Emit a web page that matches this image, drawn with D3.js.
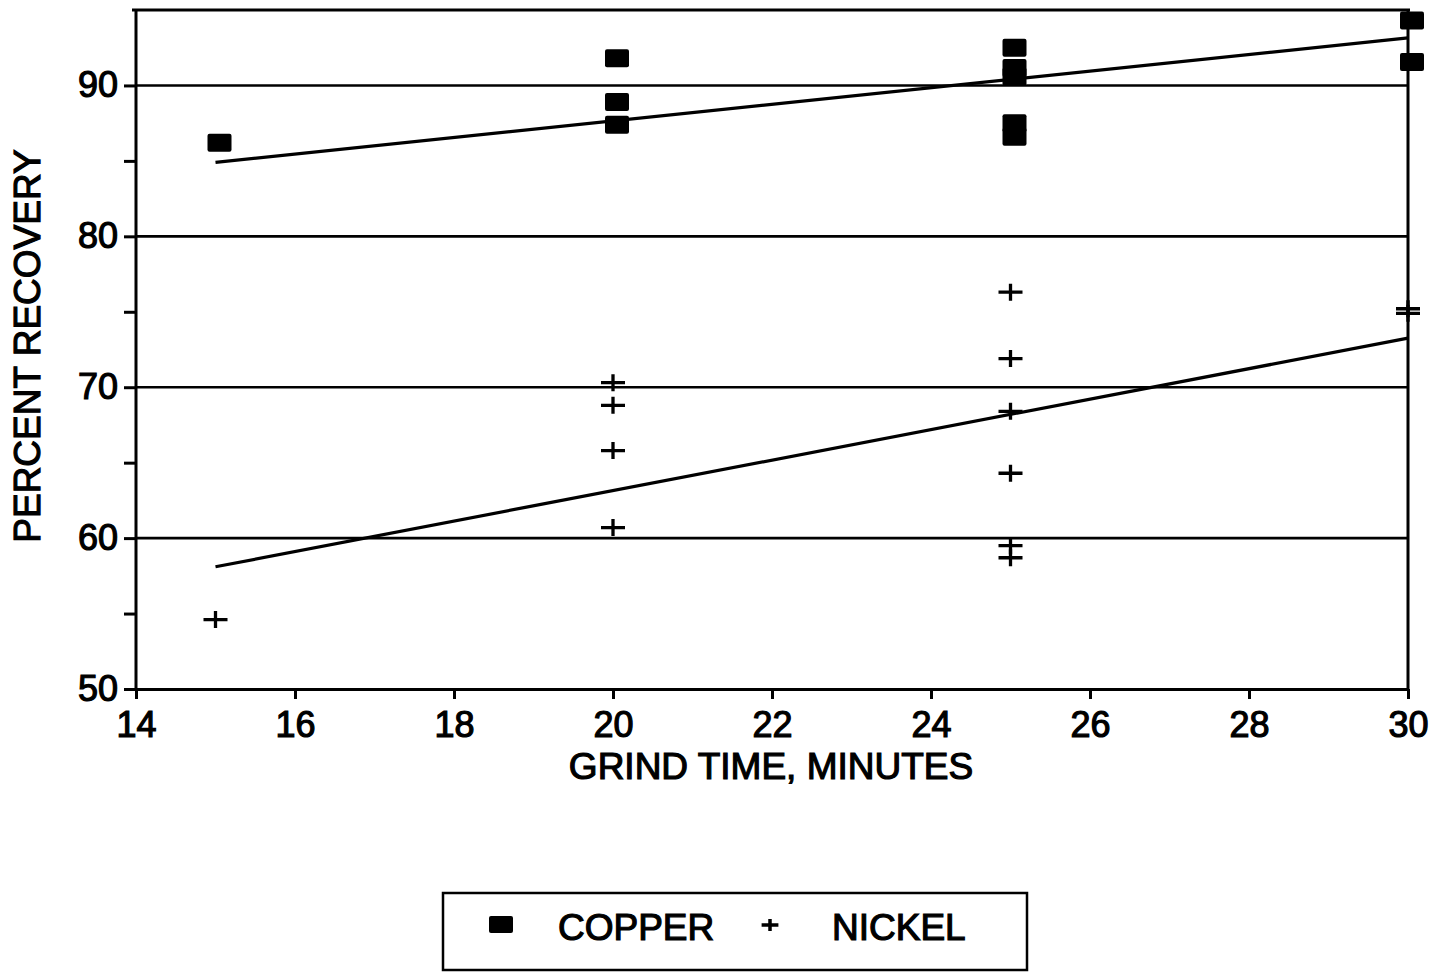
<!DOCTYPE html>
<html>
<head>
<meta charset="utf-8">
<script src="https://cdn.jsdelivr.net/npm/d3@7"></script>
<style>
body{margin:0;background:#fff}
svg text{font-family:"Liberation Sans",Arial,Helvetica,sans-serif;fill:#000;stroke:#000;stroke-width:1.2px}
</style>
</head>
<body>
<div id="chart"></div>
<script>
// valeurs
var grindTime = [15, 20, 25, 30];
var copper = [[86.2], [91.8, 88.9, 87.4], [92.5, 91.15, 90.6, 87.5, 86.6], [94.3, 91.55]];
var nickel = [[54.6], [70.3, 68.8, 65.8, 60.7], [76.3, 71.9, 68.4, 64.3, 59.5, 58.7], [75.2, 74.9]];
var fitTime = [15, 30];
var copperFit = [84.9, 93.15];
var nickelFit = [58.1, 73.25];
var xTicks = [14, 16, 18, 20, 22, 24, 26, 28, 30];
var yTicks = [50, 60, 70, 80, 90];
var yMinor = [55, 65, 75, 85];
var gridVals = [60, 70, 80, 90];
var legendLabels = ["COPPER", "NICKEL"];

var width = 1443, height = 972;
var x = d3.scaleLinear().domain([14, 30]).range([136, 1408]);
var y = d3.scaleLinear().domain([50, 95]).range([689, 10]);

var svg = d3.select("#chart").append("svg")
  .attr("width", width).attr("height", height)
  .style("background", "#fff");

function flat(series) {
  var pts = [];
  series.forEach(function(vals, i) {
    vals.forEach(function(v) { pts.push({t: grindTime[i], v: v}); });
  });
  return pts;
}

// grille horizontale
svg.append("g").selectAll("line").data(gridVals).enter().append("line")
  .attr("x1", x(14)).attr("x2", x(30))
  .attr("y1", d => y(d)).attr("y2", d => y(d))
  .attr("stroke", "#000").attr("stroke-width", 2.6);

// cadre haut et droit
svg.append("line").attr("x1", x(14) - 4).attr("x2", x(30) + 2)
  .attr("y1", y(95)).attr("y2", y(95))
  .attr("stroke", "#000").attr("stroke-width", 3);
svg.append("line").attr("x1", x(30)).attr("x2", x(30))
  .attr("y1", y(95)).attr("y2", y(50))
  .attr("stroke", "#000").attr("stroke-width", 3);

// axes
var fs = 36, fsTitle = 37;
var xAxis = svg.append("g").attr("transform", "translate(0," + y(50) + ")")
  .call(d3.axisBottom(x).tickValues(xTicks).tickSize(10).tickSizeOuter(0).tickPadding(12).tickFormat(d3.format("d")));
var yAxis = svg.append("g").attr("transform", "translate(" + x(14) + ",0)")
  .call(d3.axisLeft(y).tickValues(yTicks).tickSize(12).tickSizeOuter(0).tickPadding(6).tickFormat(d3.format("d")));
var yAxisMinor = svg.append("g").attr("transform", "translate(" + x(14) + ",0)")
  .call(d3.axisLeft(y).tickValues(yMinor).tickSize(12).tickSizeOuter(0).tickFormat(""));
yAxisMinor.select(".domain").remove();
[xAxis, yAxis, yAxisMinor].forEach(function(a) {
  a.selectAll("path,line").attr("stroke", "#000").attr("stroke-width", 3);
  a.selectAll("text").style("font-size", fs + "px").attr("fill", "#000");
});
// domaine de l'axe y jusqu'en haut
yAxis.select(".domain").attr("d", "M0," + y(95) + "V" + y(50));

// droites de régression
var line = d3.line().x(d => x(d[0])).y(d => y(d[1]));
[copperFit, nickelFit].forEach(function(fit) {
  svg.append("path")
    .attr("d", line(fitTime.map((t, i) => [t, fit[i]])))
    .attr("fill", "none").attr("stroke", "#000").attr("stroke-width", 3.2);
});

// points cuivre
var sqW = 24, sqH = 18;
svg.append("g").selectAll("rect").data(flat(copper)).enter().append("rect")
  .attr("x", d => x(d.t) - sqW / 2 + 4).attr("y", d => y(d.v) - sqH / 2)
  .attr("width", sqW).attr("height", sqH).attr("rx", 2)
  .attr("fill", "#000");

// points nickel
var plus = "M-12,0H12M0,-8.5V8.5";
svg.append("g").selectAll("path").data(flat(nickel)).enter().append("path")
  .attr("d", plus)
  .attr("transform", d => "translate(" + x(d.t) + "," + y(d.v) + ")")
  .attr("fill", "none").attr("stroke", "#000").attr("stroke-width", 3.3);

// titres des axes
svg.append("text").attr("x", 771).attr("y", 779)
  .attr("text-anchor", "middle").style("font-size", fsTitle + "px")
  .text("GRIND TIME, MINUTES");
svg.append("text")
  .attr("transform", "translate(40,346) rotate(-90)")
  .attr("text-anchor", "middle").style("font-size", fsTitle + "px")
  .text("PERCENT RECOVERY");

// légende
var leg = svg.append("g");
leg.append("rect").attr("x", 443).attr("y", 893).attr("width", 584).attr("height", 77)
  .attr("fill", "none").attr("stroke", "#000").attr("stroke-width", 2.5);
leg.append("rect").attr("x", 489).attr("y", 916).attr("width", 24).attr("height", 17).attr("rx", 2).attr("fill", "#000");
leg.append("text").attr("x", 558).attr("y", 940).style("font-size", fsTitle + "px").text(legendLabels[0]);
leg.append("path").attr("d", plus).attr("transform", "translate(770,925) scale(0.7)")
  .attr("fill", "none").attr("stroke", "#000").attr("stroke-width", 5);
leg.append("text").attr("x", 832).attr("y", 940).style("font-size", fsTitle + "px").text(legendLabels[1]);
</script>
</body>
</html>
